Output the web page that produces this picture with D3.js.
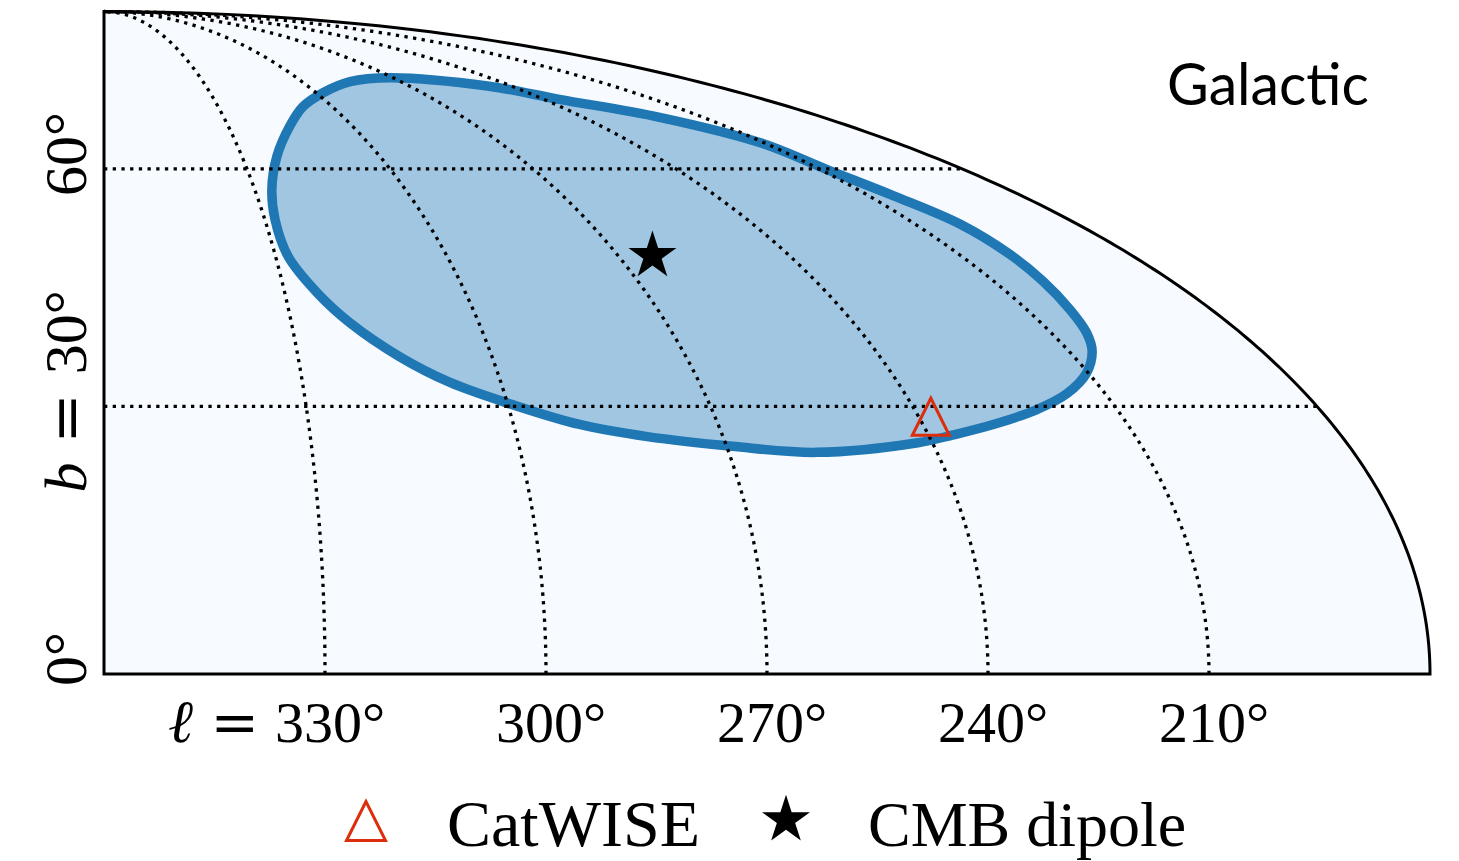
<!DOCTYPE html>
<meta charset="utf-8">
<style>

  body { margin: 0; background-color: #fff; }
  text { font-family: "Liberation Serif", "DejaVu Serif", serif; fill: #000; }

</style>
<body>
<svg width="1459" height="861"></svg>
<script src="https://d3js.org/d3.v7.min.js"></script>
<script>

// graticule and tick labels (galactic degrees)
var meridianL = [330, 300, 270, 240, 210];
var meridianLabels = ["330°", "300°", "270°", "240°", "210°"];
var parallelB = [30, 60];
var latTickB = [0, 30, 60];
var latTickLabels = ["0°", "30°", "60°"];

// confidence contour (l, b in degrees)
var contourL = [326.6, 322.4, 315.2, 307.7, 298.0, 285.4, 270.8, 246.7, 235.8, 220.9,
                210.9, 208.6, 205.2, 201.7, 201.1, 201.7, 203.0, 204.4, 206.4, 210.3,
                215.7, 222.0, 229.7, 236.4, 242.1, 257.4, 269.2, 281.0, 290.3, 300.0,
                307.7, 314.2, 320.6, 324.6, 327.8, 328.1];
var contourB = [57.1, 61.8, 66.3, 69.4, 71.7, 73.6, 74.3, 72.8, 70.6, 67.7,
                63.8, 59.9, 56.3, 52.4, 48.4, 45.1, 41.5, 38.7, 36.5, 33.9,
                31.5, 29.6, 27.9, 26.7, 25.8, 24.7, 25.4, 26.5, 27.9, 30.4,
                32.8, 35.8, 39.9, 43.6, 48.2, 53.0];

// dipole directions
var pointNames = ["CatWISE", "CMB dipole"];
var pointL = [238.2, 264.0];
var pointB = [28.8, 48.3];

var svg = d3.select("svg");

// mollweide, longitude increasing to the left, l = 360 on the left edge
var x = d3.scaleLinear().domain([0, 2 * Math.SQRT2]).range([104, 1430]),
    y = d3.scaleLinear().domain([0, Math.SQRT2]).range([674, 11.5]);

function mollweide(l, b) {
  var lam = (360 - l) * Math.PI / 180,
      phi = b * Math.PI / 180,
      theta = phi;
  if (Math.abs(b) >= 90) {
    theta = Math.sign(b) * Math.PI / 2;
  } else {
    var k = Math.PI * Math.sin(phi);
    for (var i = 0; i < 50; i++) {
      var den = 2 + 2 * Math.cos(2 * theta);
      if (den < 1e-12) break;
      var d = (2 * theta + Math.sin(2 * theta) - k) / den;
      theta -= d;
      if (Math.abs(d) < 1e-12) break;
    }
  }
  return [2 * Math.SQRT2 / Math.PI * lam * Math.cos(theta), Math.SQRT2 * Math.sin(theta)];
}

function proj(l, b) {
  var p = mollweide(l, b);
  return [x(p[0]), y(p[1])];
}

var line = d3.line();
var bSteps = d3.range(0, 90.001, 0.5);

// map area
var region = [proj(360, 0)].concat(bSteps.map(b => proj(180, b)));
svg.append("path")
    .attr("d", line(region) + "Z")
    .attr("fill", "#f7fbff");

// contour
var contourPts = contourL.map((l, i) => proj(l, contourB[i]));
svg.append("path")
    .attr("d", d3.line().curve(d3.curveCatmullRomClosed.alpha(0.5))(contourPts))
    .attr("fill", "#1f77b4")
    .attr("fill-opacity", 0.4)
    .attr("stroke", "#1f77b4")
    .attr("stroke-width", 9.5);

// graticule
var grat = svg.append("g")
    .attr("fill", "none")
    .attr("stroke", "#000")
    .attr("stroke-width", 3.3)
    .attr("stroke-dasharray", "3.3 5.4");

grat.selectAll(".meridian")
  .data(meridianL)
  .enter().append("path")
    .attr("class", "meridian")
    .attr("d", l => line(bSteps.map(b => proj(l, b))));

grat.selectAll(".parallel")
  .data(parallelB)
  .enter().append("path")
    .attr("class", "parallel")
    .attr("d", b => line([proj(360, b), proj(180, b)]));

// outline
svg.append("path")
    .attr("d", line(region) + "Z")
    .attr("fill", "none")
    .attr("stroke", "#000")
    .attr("stroke-width", 3);

// markers
function triangle(s) {
  return "M0," + (-s) + "L" + (-s) + "," + s + "L" + s + "," + s + "Z";
}
var star = d3.symbol(d3.symbolStar, 713);

var cw = proj(pointL[0], pointB[0]);
svg.append("path")
    .attr("d", triangle(18.5))
    .attr("transform", "translate(" + cw + ")")
    .attr("fill", "none")
    .attr("stroke", "#dc2d0c")
    .attr("stroke-width", 3);

var cmb = proj(pointL[1], pointB[1]);
svg.append("path")
    .attr("d", star())
    .attr("transform", "translate(" + cmb + ")")
    .attr("fill", "#000");

// longitude labels
var lonText = svg.append("g")
    .attr("font-size", 58)
    .attr("text-anchor", "middle");

lonText.selectAll("text")
  .data(meridianL)
  .enter().append("text")
    .attr("x", l => proj(l, 0)[0] + 5)
    .attr("y", 742)
    .text((l, i) => meridianLabels[i]);

var firstLabel = lonText.select("text").node().getBBox();
svg.append("text")
    .attr("font-size", 58)
    .attr("text-anchor", "middle")
    .attr("x", firstLabel.x - 40)
    .attr("y", 742)
    .style("font-family", "'DejaVu Serif', serif")
    .text("=");
svg.append("text")
    .attr("font-size", 60)
    .attr("font-style", "italic")
    .attr("text-anchor", "end")
    .attr("x", firstLabel.x - 82)
    .attr("y", 742)
    .text("ℓ");

// latitude labels
var latText = svg.append("g")
    .attr("font-size", 60)
    .attr("text-anchor", "middle");

latText.selectAll("text")
  .data(latTickB)
  .enter().append("text")
    .attr("transform", b => "translate(86," + (proj(360, b)[1] - 15) + ") rotate(-90)")
    .each(function(b, i) {
      var t = d3.select(this);
      if (b === 30) {
        t.append("tspan").attr("font-style", "italic").text("b");
        t.append("tspan").style("font-family", "'DejaVu Serif', serif").text(" = ");
        t.append("tspan").text(latTickLabels[i]);
      } else {
        t.text(latTickLabels[i]);
      }
    });

// frame title
var title = svg.append("text")
    .attr("x", 1167)
    .attr("y", 105)
    .style("font-family", "Lato, 'Open Sans', sans-serif")
    .attr("font-size", 60)
    .text("Galactic");
var tw = title.node().getComputedTextLength();
title.attr("font-size", 60 * 202 / tw);

// legend
var legend = svg.append("g").attr("font-size", 66);

legend.append("path")
    .attr("d", triangle(19.5))
    .attr("transform", "translate(366,821)")
    .attr("fill", "none")
    .attr("stroke", "#dc2d0c")
    .attr("stroke-width", 3);

legend.append("text")
    .attr("x", 447)
    .attr("y", 846)
    .text(pointNames[0]);

legend.append("path")
    .attr("d", star())
    .attr("transform", "translate(786,820)")
    .attr("fill", "#000");

legend.append("text")
    .attr("x", 868)
    .attr("y", 846)
    .attr("font-size", 64)
    .text(pointNames[1]);

</script>
